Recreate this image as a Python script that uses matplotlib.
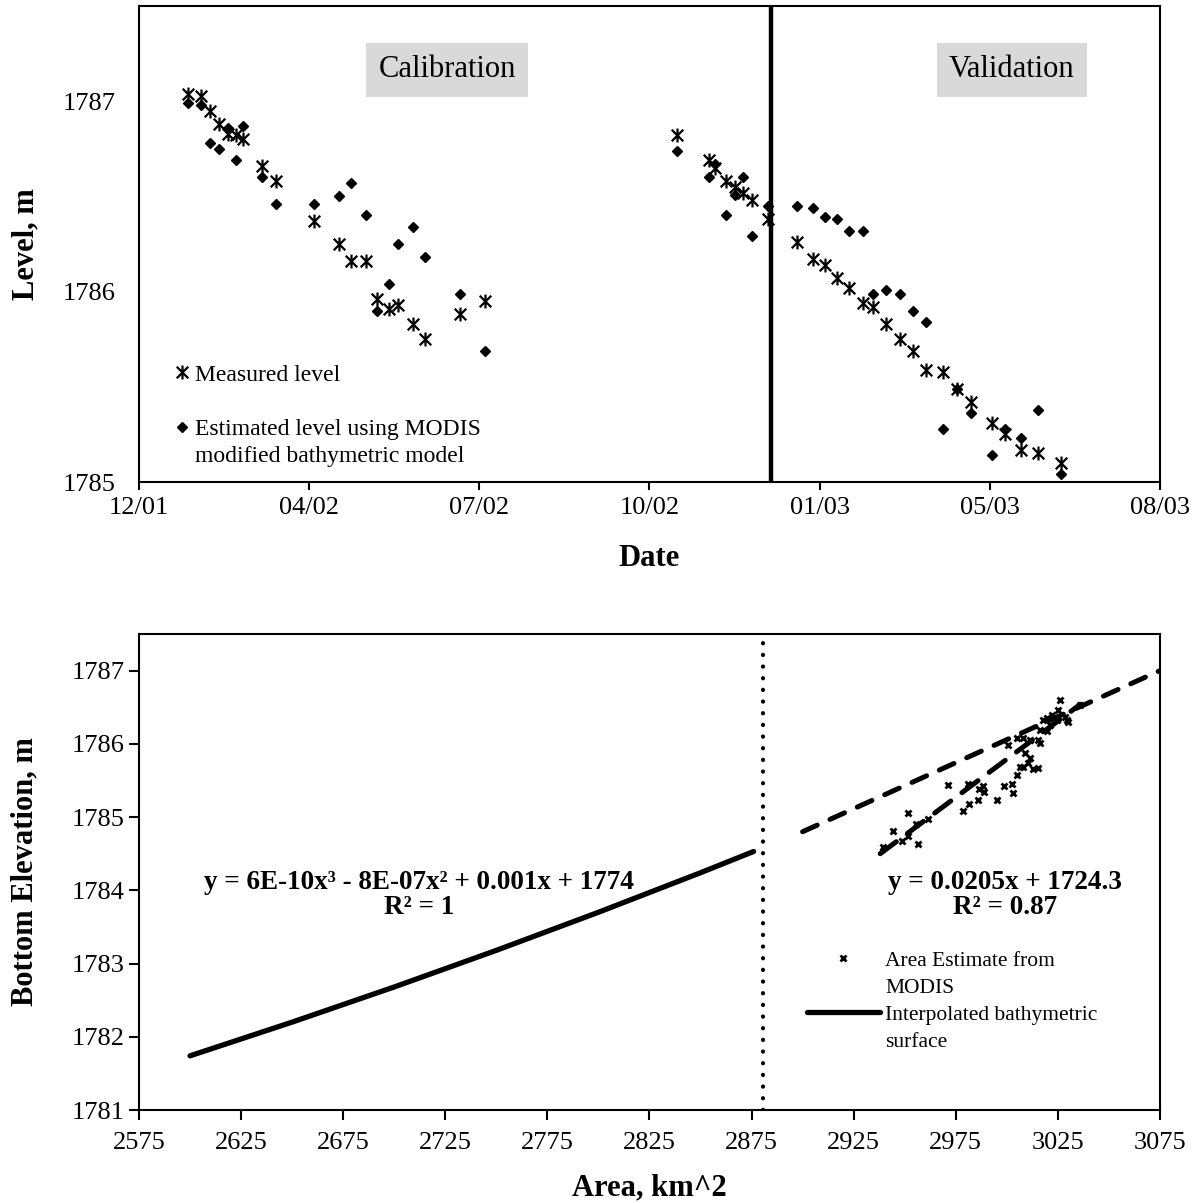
import numpy as np
import pandas as pd
import matplotlib
matplotlib.use('Agg')
import matplotlib.pyplot as plt
import matplotlib.dates as mdates
from matplotlib.path import Path
from matplotlib.lines import Line2D

plt.rcParams['font.family'] = ['Liberation Serif', 'DejaVu Serif']

# ---- datos panel superior (nivel del lago) ----
fechas = ['2002-01-28', '2002-02-05', '2002-02-10', '2002-02-15', '2002-02-20', '2002-02-25',
          '2002-03-01', '2002-03-12', '2002-03-20', '2002-04-11', '2002-04-25', '2002-05-02',
          '2002-05-11', '2002-05-17', '2002-05-24', '2002-05-29', '2002-06-07', '2002-06-14',
          '2002-07-04', '2002-07-18',
          '2002-11-06', '2002-11-24', '2002-11-28', '2002-12-04', '2002-12-09', '2002-12-14',
          '2002-12-19', '2002-12-28',
          '2003-01-14', '2003-01-23', '2003-01-30', '2003-02-06', '2003-02-13', '2003-02-21',
          '2003-02-27', '2003-03-06', '2003-03-14', '2003-03-22', '2003-03-29', '2003-04-08',
          '2003-04-16', '2003-04-24', '2003-05-06', '2003-05-14', '2003-05-23', '2003-06-02',
          '2003-06-15']
nivel_medido = [1787.04, 1787.03, 1786.95, 1786.88, 1786.83, 1786.82, 1786.80, 1786.66, 1786.58,
                1786.37, 1786.25, 1786.16, 1786.16, 1785.96, 1785.91, 1785.93, 1785.83, 1785.75,
                1785.88, 1785.95,
                1786.82, 1786.69, 1786.65, 1786.58, 1786.55, 1786.52, 1786.48, 1786.38,
                1786.26, 1786.17, 1786.14, 1786.07, 1786.02, 1785.94, 1785.92, 1785.83, 1785.75,
                1785.69, 1785.59, 1785.58, 1785.49, 1785.42, 1785.31, 1785.25, 1785.17, 1785.15,
                1785.10]
nivel_estimado = [1786.99, 1786.98, 1786.78, 1786.75, 1786.86, 1786.69, 1786.87, 1786.60, 1786.46,
                  1786.46, 1786.50, 1786.57, 1786.40, 1785.90, 1786.04, 1786.25, 1786.34, 1786.18,
                  1785.99, 1785.69,
                  1786.74, 1786.60, 1786.67, 1786.40, 1786.51, 1786.60, 1786.29, 1786.45,
                  1786.45, 1786.44, 1786.39, 1786.38, 1786.32, 1786.32, 1785.99, 1786.01, 1785.99,
                  1785.90, 1785.84, 1785.28, 1785.49, 1785.36, 1785.14, 1785.28, 1785.23, 1785.38,
                  1785.04]
fecha_corte = '2002-12-30'
fecha_inicio = '2001-12-31'

# ---- datos panel inferior (area vs elevacion) ----
area_modis = [2939.2, 2944.4, 2948.5, 2951.7, 2951.7, 2955.5, 2956.6, 2961.5, 2971.3, 2978.7,
              2981.6, 2981.1, 2986.0, 2986.5, 2988.5, 2988.8, 2995.0, 2998.6, 3002.4, 3003.2,
              3004.8, 3008.1, 3010.5, 3013.0, 3015.4, 3008.9, 3011.3, 3004.8, 3000.7, 3008.1,
              3011.3, 3016.2, 3017.8, 3015.4, 3019.5, 3024.4, 3025.2, 3026.0, 3030.1, 3028.5,
              3021.1, 3035.8, 3019.5, 3016.2, 3021.9, 3006.4, 3029.3]
elev_modis = [1784.59, 1784.81, 1784.68, 1785.06, 1784.74, 1784.91, 1784.63, 1784.98, 1785.44, 1785.08,
              1785.18, 1785.45, 1785.23, 1785.38, 1785.42, 1785.34, 1785.23, 1785.42, 1785.45, 1785.33,
              1785.58, 1785.69, 1785.74, 1785.65, 1785.67, 1785.87, 1785.80, 1786.08, 1785.99, 1786.08,
              1786.05, 1786.19, 1786.33, 1786.05, 1786.35, 1786.33, 1786.46, 1786.60, 1786.30, 1786.37,
              1786.26, 1786.53, 1786.17, 1786.01, 1786.40, 1785.69, 1786.33]
area_superficie = [2600, 2650, 2700, 2750, 2800, 2850, 2876]
elev_superficie = [1781.74, 1782.20, 1782.68, 1783.18, 1783.70, 1784.24, 1784.53]
area_tendencia = [2938, 3036]
elev_tendencia = [1784.50, 1786.54]
area_extension = [2900, 3075]
elev_extension = [1784.80, 1787.00]
area_corte = 2880.5

fig = plt.figure(figsize=(11.94, 12.03), dpi=100)

# ---------------- panel superior ----------------
ax1 = fig.add_axes([0.1164, 0.5993, 0.8551, 0.3957])
x_fechas = pd.to_datetime(fechas)

# marcador asterisco estilo Excel (X con barra vertical)
asterisco = Path([(-1, -1), (1, 1), (-1, 1), (1, -1), (0, -1.2), (0, 1.2)],
                 [Path.MOVETO, Path.LINETO, Path.MOVETO, Path.LINETO, Path.MOVETO, Path.LINETO])

ax1.plot(x_fechas, nivel_medido, linestyle='none', marker=asterisco, markersize=10,
         markeredgewidth=1.6, color='black')
ax1.plot(x_fechas, nivel_estimado, linestyle='none', marker='D', markersize=5.6,
         color='black')
ax1.axvline(pd.to_datetime(fecha_corte), color='black', linewidth=3.2)

ticks = pd.date_range(fecha_inicio, periods=7, freq='98D')
ax1.set_xlim(ticks[0], ticks[-1])
ax1.set_xticks(ticks)
ax1.xaxis.set_major_formatter(mdates.DateFormatter('%m/%y'))
ax1.set_ylim(1785, 1787.5)
ax1.set_yticks([1785, 1786, 1787])
ax1.tick_params(axis='x', direction='out', length=6, width=1.5, labelsize=19, pad=5)
ax1.tick_params(axis='y', length=0, labelsize=19, pad=17)
for s in ax1.spines.values():
    s.set_linewidth(1.5)
ax1.set_xlabel('Date', fontsize=22, fontweight='bold', labelpad=18)
ax1.set_ylabel('Level, m', fontsize=22, fontweight='bold', labelpad=16)

ax1.text(0.3017, 0.866, 'Calibration', transform=ax1.transAxes, fontsize=22,
         ha='center', va='center',
         bbox=dict(boxstyle='square,pad=0.4', facecolor='#d9d9d9', edgecolor='none'))
ax1.text(0.855, 0.866, 'Validation', transform=ax1.transAxes, fontsize=22,
         ha='center', va='center',
         bbox=dict(boxstyle='square,pad=0.4', facecolor='#d9d9d9', edgecolor='none'))

# leyenda con el simbolo en la primera linea de cada etiqueta
h_vacio = Line2D([], [], linestyle='none')
h_medido = Line2D([], [], linestyle='none', marker=asterisco, markersize=10,
                  markeredgewidth=1.6, color='black')
h_estimado = Line2D([], [], linestyle='none', marker='D', markersize=5.6, color='black')
ax1.legend([h_medido, h_vacio, h_estimado, h_vacio],
           ['Measured level', ' ', 'Estimated level using MODIS', 'modified bathymetric model'],
           loc='lower left', bbox_to_anchor=(0.035, 0.031), frameon=False, fontsize=17,
           handlelength=0.6, handletextpad=0.25, labelspacing=0.24, borderaxespad=0,
           borderpad=0)

# ---------------- panel inferior ----------------
ax2 = fig.add_axes([0.1164, 0.0773, 0.8551, 0.3957])
ax2.plot(area_superficie, elev_superficie, color='black', linewidth=3.8,
         solid_capstyle='round')
ax2.plot(area_extension, elev_extension, color='black', linewidth=3.6,
         linestyle=(0, (3.2, 2.8)), dash_capstyle='round')
ax2.plot(area_tendencia, elev_tendencia, color='black', linewidth=3.6,
         linestyle=(0, (4, 2.8)), dash_capstyle='round')
ax2.plot(area_modis, elev_modis, linestyle='none', marker='x', markersize=5,
         markeredgewidth=2, color='black')
ax2.axvline(area_corte, color='black', linewidth=3, linestyle=(0, (0.05, 2.75)),
            dash_capstyle='round')

ax2.set_xlim(2575, 3075)
ax2.set_xticks(np.arange(2575, 3076, 50))
ax2.set_ylim(1781, 1787.5)
ax2.set_yticks(np.arange(1781, 1788, 1))
ax2.tick_params(axis='both', direction='out', length=7, width=1.5, labelsize=19)
ax2.tick_params(axis='x', pad=9)
for s in ax2.spines.values():
    s.set_linewidth(1.5)
ax2.set_xlabel('Area, km^2', fontsize=22, fontweight='bold', labelpad=14)
ax2.set_ylabel('Bottom Elevation, m', fontsize=22, fontweight='bold', labelpad=23)

ax2.text(2712, 1783.94, 'y = 6E-10x³ - 8E-07x² + 0.001x + 1774\nR² = 1', fontsize=19.5,
         fontweight='bold', ha='center', va='center', linespacing=1.0)
ax2.text(2999, 1783.94, 'y = 0.0205x + 1724.3\nR² = 0.87', fontsize=19.5,
         fontweight='bold', ha='center', va='center', linespacing=1.0)

h_modis = Line2D([], [], linestyle='none', marker='x', markersize=5, markeredgewidth=2,
                 color='black')
h_superficie = Line2D([], [], color='black', linewidth=3.8, solid_capstyle='round')
ax2.legend([h_modis, h_vacio, h_superficie, h_vacio],
           ['Area Estimate from', 'MODIS', 'Interpolated bathymetric', 'surface'],
           loc='upper left', bbox_to_anchor=(0.654, 0.335), frameon=False, fontsize=15.5,
           handlelength=3.4, handletextpad=0.25, labelspacing=0.33, borderaxespad=0,
           borderpad=0)

fig.savefig('out.png', dpi=100)
